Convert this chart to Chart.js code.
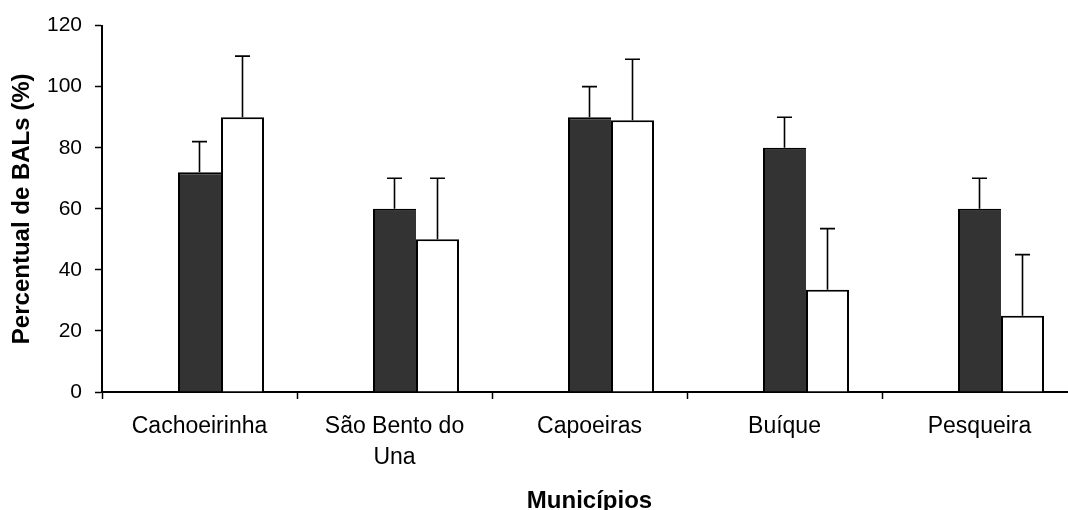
<!DOCTYPE html>
<html>
<head>
<meta charset="utf-8">
<script src="https://cdn.jsdelivr.net/npm/chart.js@4/dist/chart.umd.min.js"></script>
<style>
  html, body { margin: 0; padding: 0; background: #fff; overflow: hidden; width: 1068px; height: 510px; }
  #wrap { position: relative; width: 1077px; height: 510px; }
</style>
</head>
<body>
<div id="wrap"><canvas id="chart"></canvas></div>
<script>
// Municipalities on the category axis
const categories = ['Cachoeirinha', ['São Bento do', 'Una'], 'Capoeiras', 'Buíque', 'Pesqueira'];

// Dark series: mean and upper error
const darkValues = [72, 60, 90, 80, 60];
const darkErrors = [10, 10, 10, 10, 10];

// White series: mean and upper error
const lightValues = [90, 50, 89, 33.5, 25];
const lightErrors = [20, 20, 20, 20, 20];

// Leading empty series keeps the first slot of each group blank
const emptySlot = [null, null, null, null, null];

// Value axis range
const yMin = 0;
const yMax = 120;
const yStep = 20;

const FONT = '"Liberation Sans", Arial, sans-serif';

// Upper error whiskers with a cap, placed with the chart's own scales
const errorBars = {
  id: 'errorBars',
  afterDatasetsDraw(chart) {
    const ctx = chart.ctx;
    const yScale = chart.scales.y;
    chart.data.datasets.forEach((ds, di) => {
      if (!ds.errors) return;
      const meta = chart.getDatasetMeta(di);
      meta.data.forEach((bar, i) => {
        const v = ds.data[i];
        if (v == null) return;
        const base = yScale.getPixelForValue(v);
        const top = yScale.getPixelForValue(v + ds.errors[i]);
        ctx.save();
        ctx.strokeStyle = '#000';
        ctx.lineWidth = 1.6;
        ctx.beginPath();
        ctx.moveTo(bar.x, base);
        ctx.lineTo(bar.x, top);
        ctx.moveTo(bar.x - 7.5, top);
        ctx.lineTo(bar.x + 7.5, top);
        ctx.stroke();
        ctx.restore();
      });
    });
  }
};

new Chart(document.getElementById('chart'), {
  type: 'bar',
  data: {
    labels: categories,
    datasets: [
      {
        label: '',
        data: emptySlot,
        backgroundColor: 'rgba(0,0,0,0)',
        borderWidth: 0
      },
      {
        label: 'A',
        data: darkValues,
        errors: darkErrors,
        backgroundColor: '#333333',
        borderColor: '#000',
        borderWidth: { top: 2, left: 2, right: 0, bottom: 0 },
        borderSkipped: 'start'
      },
      {
        label: 'B',
        data: lightValues,
        errors: lightErrors,
        backgroundColor: '#ffffff',
        borderColor: '#000',
        borderWidth: { top: 2, left: 2, right: 2, bottom: 0 },
        borderSkipped: 'start'
      }
    ]
  },
  options: {
    responsive: true,
    maintainAspectRatio: false,
    animation: false,
    layout: { padding: { top: 25, left: 0, right: 0, bottom: 0 } },
    datasets: {
      bar: { categoryPercentage: 0.6615, barPercentage: 1 }
    },
    plugins: {
      legend: { display: false },
      tooltip: { enabled: false },
      title: { display: false }
    },
    scales: {
      x: {
        type: 'category',
        offset: true,
        z: 1,
        afterFit(scale) { scale.height = 118; },
        border: { display: true, color: '#000', width: 2 },
        grid: {
          offset: true,
          drawOnChartArea: false,
          drawTicks: true,
          tickLength: 7,
          tickWidth: 1.5,
          tickColor: '#000'
        },
        ticks: {
          color: '#000',
          autoSkip: false,
          maxRotation: 0,
          minRotation: 0,
          padding: 12,
          font: { family: FONT, size: 23, lineHeight: 1.35 }
        },
        title: {
          display: true,
          text: 'Municípios',
          color: '#000',
          padding: { top: 0, bottom: -3 },
          font: { family: FONT, size: 24, weight: 'bold', lineHeight: 1 }
        }
      },
      y: {
        min: yMin,
        max: yMax,
        z: 1,
        afterFit(scale) { scale.width = 102; },
        border: { display: true, color: '#000', width: 2 },
        grid: {
          drawOnChartArea: false,
          drawTicks: true,
          tickLength: 7,
          tickWidth: 1.5,
          tickColor: '#000'
        },
        ticks: {
          stepSize: yStep,
          color: '#000',
          padding: 13,
          font: { family: FONT, size: 21 }
        },
        title: {
          display: true,
          text: 'Percentual de BALs (%)',
          color: '#000',
          padding: { top: 10, bottom: 0 },
          font: { family: FONT, size: 24, weight: 'bold', lineHeight: 1 }
        }
      }
    }
  },
  plugins: [errorBars]
});
</script>
</body>
</html>
